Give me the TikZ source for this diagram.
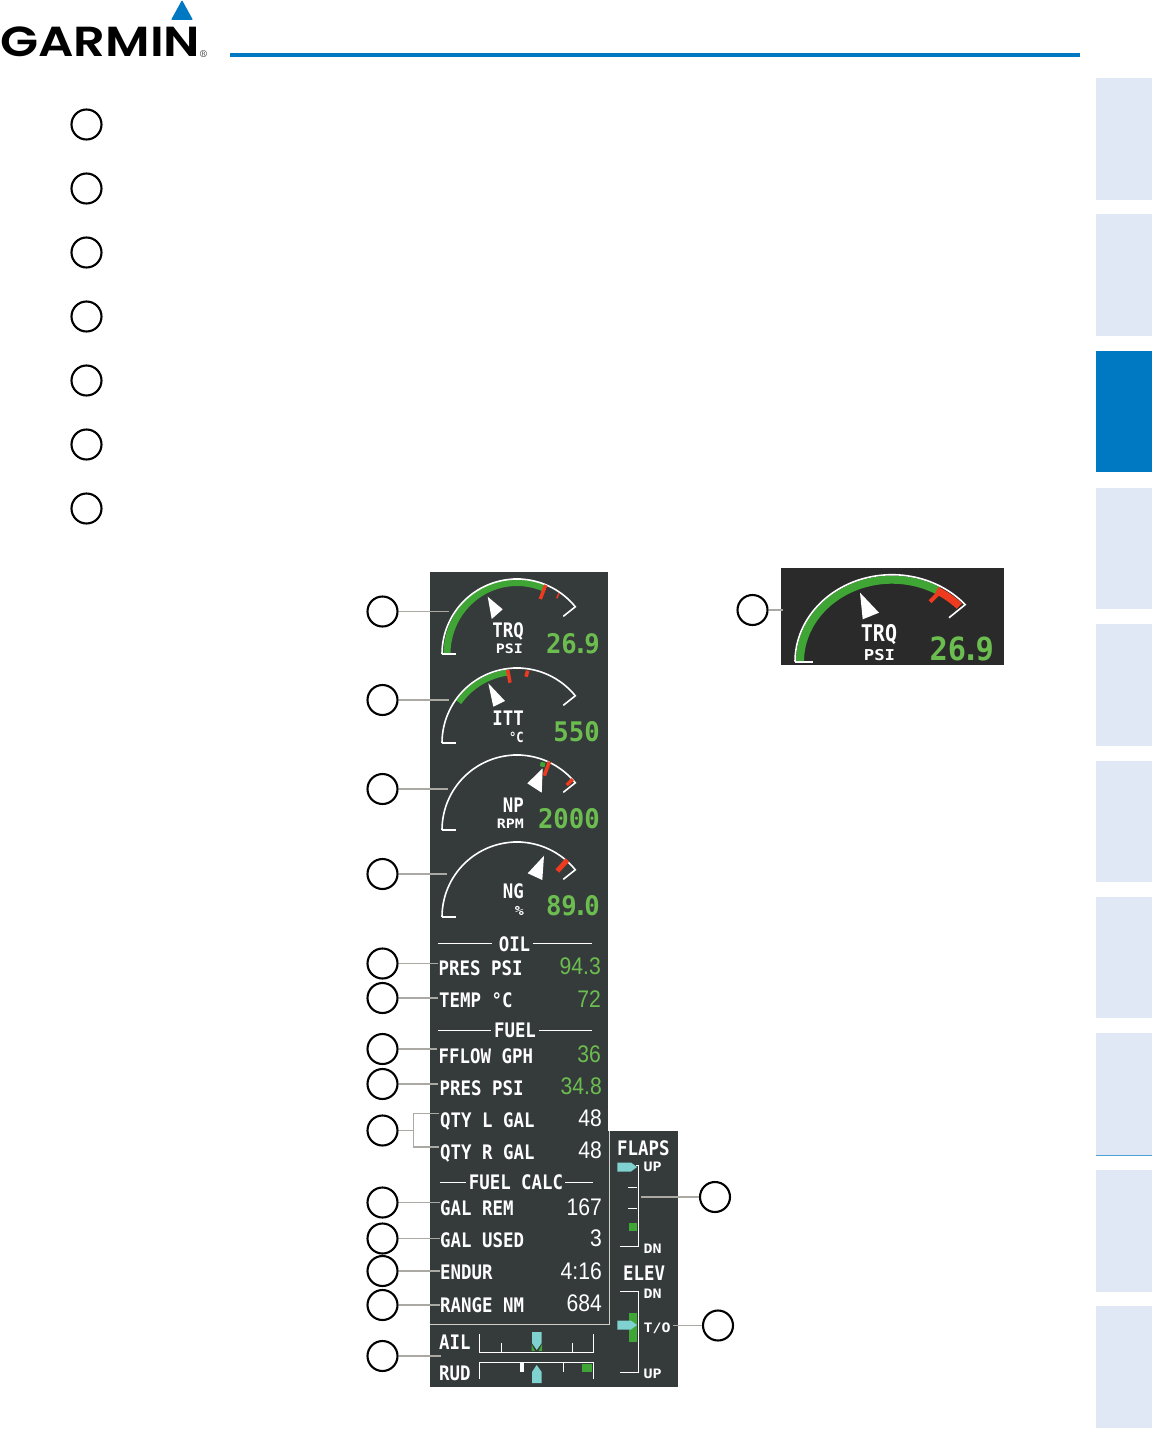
\documentclass[tikz,border=0pt]{standalone}
\usepackage{fontspec}
\newfontfamily\gdu[FakeStretch=.87]{DejaVu Sans Mono}
\newfontfamily\gbig[FakeStretch=.95]{DejaVu Sans Mono}
\newfontfamily\gwid[FakeStretch=1.15]{DejaVu Sans Mono}
\newfontfamily\gnum[FakeStretch=.88]{Liberation Sans}
\newfontfamily\logofont{Poppins SemiBold}
\definecolor{garblue}{HTML}{0079C2}
\definecolor{tab}{HTML}{E0E7F5}
\definecolor{panel}{HTML}{353A3B}
\definecolor{insetbg}{HTML}{2A2A2A}
\definecolor{gval}{HTML}{6CBD4F}
\definecolor{garc}{HTML}{3FA535}
\definecolor{gred}{HTML}{EE3A1E}
\definecolor{gcyan}{HTML}{7FD2D0}
\definecolor{conn}{HTML}{AAA9A4}
\definecolor{divline}{HTML}{CFCFCB}
\tikzset{
  x=1pt,y=-1pt,
  lbl/.style={anchor=base west,inner sep=0pt,text=white,yshift=-.7pt,font=\gdu\bfseries\fontsize{20}{20}\selectfont},
  ctr/.style={anchor=base,inner sep=0pt,text=white,yshift=-.7pt,font=\gdu\bfseries\fontsize{20}{20}\selectfont},
  unitlbl/.style={anchor=base east,inner sep=0pt,text=white,yshift=-.5pt,font=\gwid\bfseries\fontsize{13}{13}\selectfont},
  gaugelbl/.style={anchor=base east,inner sep=0pt,text=white,yshift=-.7pt,font=\gdu\bfseries\fontsize{20}{20}\selectfont},
  bigval/.style={anchor=base east,inner sep=0pt,text=gval,font=\gbig\bfseries\fontsize{27}{27}\selectfont},
  rowval/.style={anchor=base east,inner sep=0pt,text=gval,font=\gnum\fontsize{24}{24}\selectfont},
  whval/.style={rowval,text=white},
  small/.style={anchor=base west,inner sep=0pt,text=white,yshift=-.5pt,font=\gwid\bfseries\fontsize{13}{13}\selectfont},
  callout/.style={circle,draw=black,fill=white,line width=2.1pt,minimum size=30pt,inner sep=0pt},
  leader/.style={draw=conn,line width=1.4pt},
  wline/.style={draw=white,line width=1.6pt},
  thinw/.style={draw=white,line width=1pt},
  greenarc/.style={draw=garc,line width=7pt},
  redmark/.style={draw=gred,line width=3.5pt},
  pointer/.style={fill=white,draw=none},
  cyanptr/.style={fill=gcyan,draw=none},
  tabbox/.style={fill=tab,draw=none},
}
\newcommand{\gaugeframe}[1]{%
  \draw[wline] plot[domain=180:39,samples=50] ({517+75*cos(\x)},{#1-75*sin(\x)}) -- ++(-12,9.5);
  \draw[wline] (442,#1) -- (456,#1);
  \draw[thinw] (513,#1-75.5) -- (521,#1-75.5);
}
\begin{document}
\begin{tikzpicture}
\useasboundingbox (0,0) rectangle (1152,1429);
% header
\fill[garblue] (230,53) rectangle (1080,57);
\fill[garblue,rounded corners=1pt] (182,0) -- (193,20) -- (171,20) -- cycle;
\node[anchor=base west,inner sep=0pt,text=black] (logo) at (0,56.5) {\logofont\fontsize{42}{42}\selectfont\scalebox{1.18}[1]{GARMIN}};
\node[anchor=base west,inner sep=0pt,text=black] (regmark) at (200,57.5) {\fontsize{10}{10}\selectfont\textregistered};
% side tabs
\foreach \a/\b in {78/200,214/336,488/609,624/746,761/882,897/1018,1033/1155,1170/1292,1306/1428}
  \fill[tabbox] (1096,\a) rectangle (1152,\b);
\fill[garblue] (1096,351) rectangle (1152,472);
\draw[garblue!70,line width=.8pt] (1096,1155) -- (1152,1155);
% left column callouts
\foreach \n/\y in {1/124.5,2/188.5,3/252.5,4/316.5,5/380.5,6/444.5,7/508.5}
  \node[callout] (k\n) at (86.5,\y) {};
% panels
\fill[panel] (430,572) rectangle (608,1387);
\fill[panel] (608,1131) rectangle (678,1387);
\draw[divline,line width=1pt] (430,1324) -- (609,1324) -- (609,1131);
\fill[insetbg] (781,568) rectangle (1004,665);
% gauges
\draw[greenarc] plot[domain=180:68,samples=40] ({517+70*cos(\x)},{654-71.5*sin(\x)});
\gaugeframe{654}
\draw[redmark] (545.7,585) -- (540.3,599);
\draw[gred,line width=1.5pt] (559,593.3) -- (556.7,598.3);
\fill[pointer] (487.7,596.7) -- (502.7,609.3) -- (491.7,619) -- cycle;
\node[gaugelbl] (trq) at (524,636.7) {TRQ};
\node[unitlbl] (psi) at (523,653.3) {PSI};
\node[bigval] (trqv) at (600,653.3) {26{\kern-4pt.\kern-4pt}9};

\draw[greenarc,line width=6pt] plot[domain=145:97,samples=20] ({517+71*cos(\x)},{743-71*sin(\x)});
\gaugeframe{743}
\draw[redmark] (507.7,670) -- (510,682.7);
\draw[redmark] (527.7,670.7) -- (526,676.7);
\fill[pointer] (488.3,683.3) -- (505,701) -- (493.3,706.7) -- cycle;
\node[gaugelbl] (itt) at (524,725) {ITT};
\node[unitlbl,font=\gdu\bfseries\fontsize{14}{14}\selectfont] (degc) at (524,741.7) {°C};
\node[bigval] (ittv) at (600,741.7) {550};

\gaugeframe{830}
\draw[garc,line width=4.5pt] (540.3,764) -- (545,765);
\draw[redmark] (549.3,761.7) -- (544.3,775.7);
\draw[redmark] (572.7,779.3) -- (566.7,785);
\fill[pointer] (542.7,768.3) -- (541.7,792.7) -- (527.3,783.3) -- cycle;
\node[gaugelbl] (np) at (524,811.7) {NP};
\node[unitlbl] (rpm) at (524,828.3) {RPM};
\node[bigval] (npv) at (600,828.3) {2000};

\gaugeframe{917}
\draw[draw=gred,line width=5pt] (567.3,860) -- (557.3,871);
\fill[pointer] (544,855.7) -- (542.3,880) -- (527.7,873.3) -- cycle;
\node[gaugelbl] (ng) at (524,898) {NG};
\node[unitlbl] (pct) at (524,915) {\%};
\node[bigval] (ngv) at (600,915) {89{\kern-4pt.\kern-4pt}0};
% engine rows
\node[ctr] (oil) at (514.5,950.7) {OIL};
\draw[thinw] (438,943.7) -- (492,943.7);
\draw[thinw] (533,943.7) -- (592,943.7);
\node[lbl] (oilp) at (438.5,975) {PRES PSI};
\node[rowval] (oilpv) at (601,974.5) {94.3};
\node[lbl] (oilt) at (439,1007) {TEMP °C};
\node[rowval] (oiltv) at (601,1007) {72};
\node[ctr] (fuel) at (515,1037) {FUEL};
\draw[thinw] (438,1030) -- (491,1030);
\draw[thinw] (539,1030) -- (592,1030);
\node[lbl] (ffl) at (438.5,1062.7) {FFLOW GPH};
\node[rowval] (fflv) at (601,1062) {36};
\node[lbl] (fpr) at (439.5,1095) {PRES PSI};
\node[rowval] (fprv) at (602,1094.5) {34.8};
\node[lbl] (ql) at (440,1126.7) {QTY L GAL};
\node[whval] (qlv) at (602,1126.5) {48};
\node[lbl] (qr) at (440,1159) {QTY R GAL};
\node[whval] (qrv) at (602,1158.5) {48};
\node[ctr] (fcalc) at (516,1189) {FUEL CALC};
\draw[thinw] (440,1182.3) -- (466,1182.3);
\draw[thinw] (565,1182.3) -- (593,1182.3);
\node[lbl] (grem) at (440,1215) {GAL REM};
\node[whval] (gremv) at (602,1215) {167};
\node[lbl] (gused) at (440,1246.7) {GAL USED};
\node[whval] (gusedv) at (602,1246.7) {3};
\node[lbl] (endur) at (440,1279) {ENDUR};
\node[whval] (endurv) at (602,1279) {4:16};
\node[lbl] (range) at (440,1311.7) {RANGE NM};
\node[whval] (rangev) at (602,1311) {684};
% aileron / rudder
\node[lbl] (ail) at (439,1348.3) {AIL};
\node[lbl] (rud) at (439,1380) {RUD};
\draw[thinw] (479.3,1334.3) -- (479.3,1352.7) -- (593.3,1352.7) -- (593.3,1334.3);
\draw[thinw] (501,1343) -- (501,1352.7);
\draw[thinw] (572.7,1343) -- (572.7,1352.7);
\fill[garc] (531.5,1344) -- (535,1351) -- (531.5,1351) -- cycle;
\fill[garc] (542,1344) -- (538.5,1351) -- (542,1351) -- cycle;
\fill[cyanptr] (532,1332) -- (541.7,1332) -- (541.7,1343) -- (536.7,1350) -- (532,1343) -- cycle;
\draw[thinw] (479.3,1379) -- (479.3,1362.3) -- (593.3,1362.3) -- (593.3,1379);
\fill[white] (520,1362) rectangle (523.5,1372);
\draw[thinw] (563.3,1362) -- (563.3,1372);
\fill[garc] (581.7,1363.7) rectangle (592.3,1371.7);
\fill[cyanptr] (536.7,1365) -- (541.7,1372) -- (541.7,1383) -- (532,1383) -- (532,1372) -- cycle;
% flaps
\node[lbl] (flaps) at (617,1154.3) {FLAPS};
\node[small] (fup) at (643.5,1171) {UP};
\node[small] (fdn) at (643.5,1253.3) {DN};
\draw[thinw] (636,1165.7) -- (638.3,1165.7) -- (638.3,1246.7) -- (620,1246.7);
\draw[thinw] (628.3,1187.3) -- (636.7,1187.3);
\draw[thinw] (628.3,1208.3) -- (636.7,1208.3);
\fill[garc] (629,1222.7) rectangle (637.3,1231);
\fill[cyanptr] (617.3,1162.5) -- (631,1162.5) -- (637,1167) -- (631,1171.5) -- (617.3,1171.5) -- cycle;
% elevator
\node[lbl] (elev) at (623,1280) {ELEV};
\node[small] (edn) at (643.5,1298.3) {DN};
\node[small] (eto) at (643.5,1331.7) {T/O};
\node[small] (eup) at (643.5,1378.3) {UP};
\draw[thinw] (620,1291.7) -- (638.3,1291.7) -- (638.3,1372.7) -- (620,1372.7);
\fill[garc] (629,1313.3) rectangle (637.3,1341.7);
\fill[cyanptr] (617.3,1320.5) -- (631,1320.5) -- (637,1325) -- (631,1329.5) -- (617.3,1329.5) -- cycle;
% inset gauge
\draw[draw=garc,line width=8pt] plot[domain=180:60,samples=50] ({892+92*cos(\x)},{661.7-82*sin(\x)});
\draw[draw=gred,line width=7.5pt] plot[domain=61:43,samples=20] ({892+92*cos(\x)},{661.7-81.5*sin(\x)});
\draw[draw=gred,line width=4pt] (930,601.7) -- (940,591.7);
\draw[wline] plot[domain=180:41,samples=60] ({892+97*cos(\x)},{661.7-87*sin(\x)}) -- (949,617.7);
\draw[wline] (795,661.7) -- (813.3,661.7);
\fill[pointer] (860,592.7) -- (879,612.7) -- (862.7,619.3) -- cycle;
\node[anchor=base,inner sep=0pt,text=white,font=\gdu\bfseries\fontsize{23}{23}\selectfont] (trqi) at (879,641.7) {TRQ};
\node[anchor=base,inner sep=0pt,text=white,font=\gwid\bfseries\fontsize{15}{15}\selectfont] (psii) at (879.5,660) {PSI};
\node[anchor=base east,inner sep=0pt,text=gval,font=\gbig\bfseries\fontsize{32}{32}\selectfont] (trqiv) at (994,660) {26{\kern-4.5pt.\kern-4.5pt}9};
% leaders and callouts
\foreach \n/\x/\y/\ex in {a/382.5/611.5/449,b/382.5/700/449,c/382.5/789/448,d/382.5/874/447,e/382.5/963.5/438,f/382.5/998/438,g/382.5/1049/437,h/382.5/1084/438,j/382.5/1202.5/440,k/382.5/1238.5/440,l/382.5/1271/440,m/382.5/1305/440,n/382.5/1356/441,p/752.5/610/783,q/715/1197/641,r/718/1325.5/673}{
  \node[callout] (c\n) at (\x,\y) {};
  \coordinate (e\n) at (\ex,\y);
  \draw[leader] (c\n) -- (e\n);
}
\node[callout] (ci) at (382.5,1130.5) {};
\coordinate (br) at (413.5,1130.5);
\coordinate (brt) at (439,1113.3);
\coordinate (brb) at (439,1147);
\draw[leader] (ci) -- (br);
\draw[leader] (brt) -| (br) |- (brb);
\end{tikzpicture}
\end{document}
